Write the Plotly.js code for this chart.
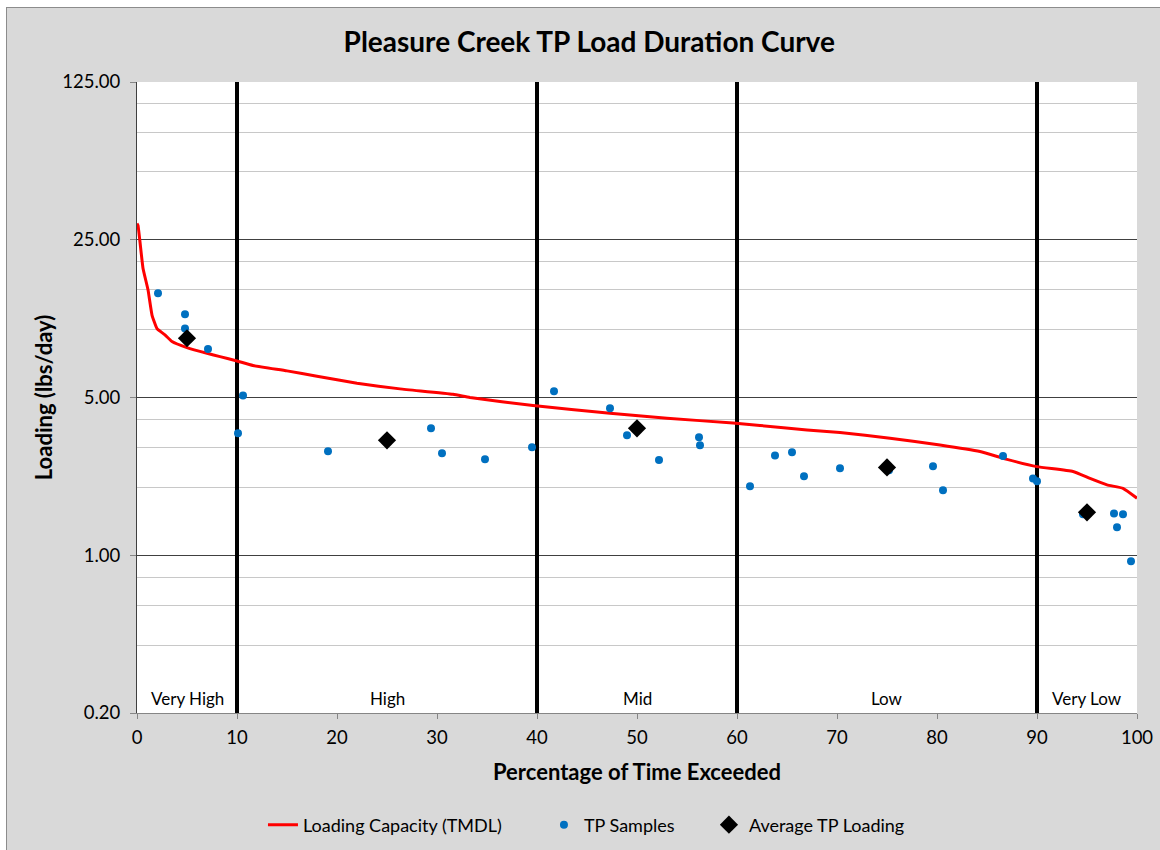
<!DOCTYPE html>
<html>
<head>
<meta charset="utf-8">
<script src="https://cdn.plot.ly/plotly-3.0.1.min.js"></script>
<style>
  body { margin: 0; background: #ffffff; }
  #frame { position: absolute; left: 6px; top: 7px; border: 1px solid #8c8c8c; border-right: none; border-bottom: none; }
  #chart { width: 1153px; height: 842px; }
</style>
</head>
<body>
<div id="frame"><div id="chart"></div></div>
<script>
// loading capacity curve (percent exceeded, lbs/day)
const tmdlX = [0, 0.1, 0.6, 1.1, 1.5, 2.0, 2.8, 3.5, 5.0, 7.0, 8.3, 10.0, 11.6, 15.0, 18.0, 22.0,
  26.3, 31.6, 33.3, 39.6, 47.3, 53.0, 59.6, 62.3, 67.0, 70.3, 75.3, 80.3, 84.3, 87.0, 90.0,
  93.6, 95.3, 97.0, 98.6, 100];
const tmdlY = [29.5, 28.9, 18.7, 15.0, 11.6, 10.1, 9.47, 8.85, 8.32, 7.85, 7.59, 7.26, 6.93, 6.56, 6.21, 5.78,
  5.46, 5.17, 5.00, 4.61, 4.26, 4.05, 3.85, 3.76, 3.59, 3.50, 3.30, 3.08, 2.88, 2.66, 2.47,
  2.35, 2.19, 2.05, 1.98, 1.79];

// individual TP samples
const sampleX = [2.1, 4.8, 4.8, 7.1, 10.6, 10.1, 19.1, 29.4, 30.5, 34.8, 39.5, 41.7, 47.3, 49.0, 52.2,
  56.2, 56.3, 61.3, 63.8, 65.5, 66.7, 70.3, 75.2, 79.6, 80.6, 86.6, 89.6, 90.0, 94.6, 97.7, 98.6, 98.0, 99.4];
const sampleY = [14.5, 11.7, 10.1, 8.2, 5.1, 3.47, 2.89, 3.65, 2.83, 2.66, 3.01, 5.33, 4.48, 3.40, 2.64,
  3.33, 3.07, 2.02, 2.77, 2.86, 2.24, 2.43, 2.38, 2.48, 1.94, 2.75, 2.19, 2.13, 1.52, 1.53, 1.52, 1.33, 0.94];

// average loading per flow zone
const avgX = [5, 25, 50, 75, 95];
const avgY = [9.15, 3.23, 3.65, 2.45, 1.55];

// flow zones
const zoneNames = ['Very High', 'High', 'Mid', 'Low', 'Very Low'];
const zoneCenters = [5, 25, 50, 75, 95];
const zoneBounds = [10, 40, 60, 90];

const yTicks = [0.2, 1, 5, 25, 125];
const yTickText = ['0.20', '1.00', '5.00', '25.00', '125.00'];
const yMinor = [0.4, 0.6, 0.8, 2, 3, 4, 10, 15, 20, 50, 75, 100];

const font = 'Lato, "Open Sans", sans-serif';

const traces = [];
zoneBounds.forEach(b => {
    traces.push({
        x: [b, b], y: [0.2, 125],
        mode: 'lines', type: 'scatter',
        line: { color: 'black', width: 4 },
        showlegend: false, hoverinfo: 'skip'
    });
});

traces.push({
    x: tmdlX, y: tmdlY,
    mode: 'lines', type: 'scatter',
    name: 'Loading Capacity (TMDL)',
    line: { color: '#ff0000', width: 3, shape: 'spline', smoothing: 0.4 },
    legend: 'legend'
});
traces.push({
    x: sampleX, y: sampleY,
    mode: 'markers', type: 'scatter',
    name: 'TP Samples',
    marker: { color: '#0070c0', size: 8 },
    legend: 'legend2'
});
traces.push({
    x: avgX, y: avgY,
    mode: 'markers', type: 'scatter',
    name: 'Average TP Loading',
    marker: { color: 'black', size: 14, symbol: 'diamond' },
    legend: 'legend3'
});

const annotations = zoneNames.map((n, i) => ({
    x: zoneCenters[i], xref: 'x',
    y: 0, yref: 'paper', yanchor: 'bottom', yshift: 2,
    text: n, showarrow: false,
    font: { family: font, size: 17, color: '#000' }
}));

// one legend per entry so each can sit where the original puts it
const legendBase = (x) => ({
    orientation: 'h',
    xref: 'container', yref: 'container',
    x: x, xanchor: 'left',
    y: 1 - 817 / 842, yanchor: 'middle',
    bgcolor: 'rgba(0,0,0,0)',
    font: { family: font, size: 18 }
});

const layout = {
    width: 1153, height: 842,
    paper_bgcolor: '#d9d9d9',
    plot_bgcolor: '#ffffff',
    margin: { l: 130, r: 23, t: 74, b: 137 },
    font: { family: font, size: 18, color: '#000' },
    title: {
        text: '<b>Pleasure Creek TP Load Duration Curve</b>',
        font: { family: font, size: 28, color: '#000' },
        x: 0.505, xref: 'container', xanchor: 'center',
        y: 1 - 34 / 842, yref: 'container', yanchor: 'middle'
    },
    xaxis: {
        range: [0, 100],
        automargin: false,
        tickvals: [0, 10, 20, 30, 40, 50, 60, 70, 80, 90, 100],
        showgrid: false, zeroline: false,
        showline: true, linecolor: '#868686', linewidth: 1,
        ticks: 'outside', ticklen: 5, tickcolor: '#868686',
        ticklabelstandoff: 3,
        tickfont: { family: font, size: 18.5 },
        title: { text: '<b>Percentage of Time Exceeded</b>', font: { family: font, size: 22 }, standoff: 17 }
    },
    yaxis: {
        type: 'log',
        automargin: false,
        range: [Math.log10(0.2), Math.log10(125)],
        tickvals: yTicks, ticktext: yTickText,
        showgrid: true, gridcolor: '#404040', gridwidth: 1,
        zeroline: false,
        showline: true, linecolor: '#404040', linewidth: 1,
        ticks: 'outside', ticklen: 6, tickcolor: '#868686',
        ticklabelstandoff: 6,
        tickfont: { family: font, size: 18.5 },
        minor: { tickvals: yMinor, showgrid: true, gridcolor: '#c8c8c8', gridwidth: 1, ticks: '' },
        title: { text: '<b>Loading (lbs/day)</b>', font: { family: font, size: 22 }, standoff: 3 }
    },
    showlegend: true,
    legend: legendBase(0.222),
    legend2: legendBase(0.4657),
    legend3: legendBase(0.6088),
    annotations: annotations
};

Plotly.newPlot('chart', traces, layout, { displayModeBar: false, staticPlot: true });
</script>
</body>
</html>
